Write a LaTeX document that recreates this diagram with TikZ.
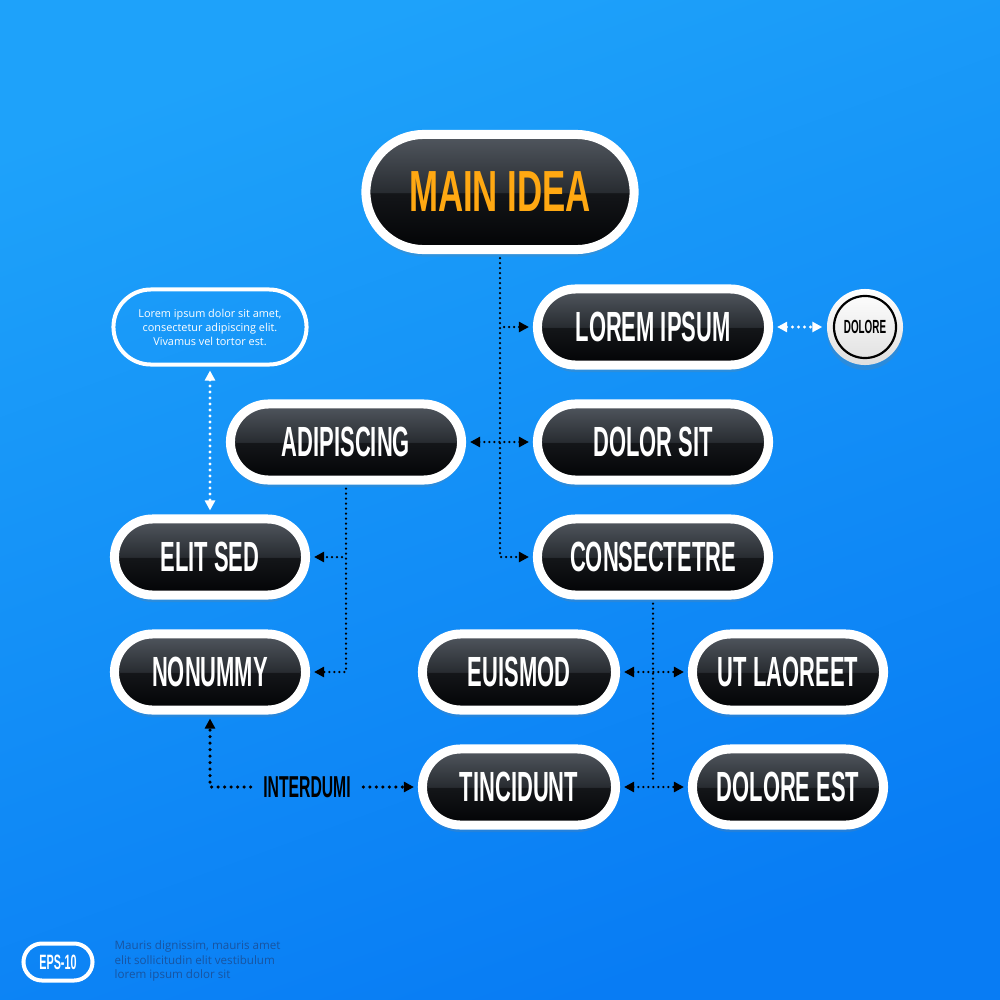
\documentclass[tikz,border=0pt]{standalone}
\usepackage{fontspec}
\setmainfont{Open Sans}
\newfontfamily\labelfont[FakeStretch=0.52,UprightFont=* Bold]{Liberation Sans}
\newfontfamily\ideafont[FakeStretch=0.6,UprightFont=* Bold]{Liberation Sans}
\usetikzlibrary{arrows.meta,shapes.misc,shadows}

\definecolor{bgtop}{RGB}{30,162,250}
\definecolor{bgbot}{RGB}{8,124,244}
\definecolor{pilltop}{RGB}{82,88,96}
\definecolor{pillmid}{RGB}{40,44,49}
\definecolor{pilldark}{RGB}{20,22,25}
\definecolor{pillbot}{RGB}{2,3,5}
\definecolor{mainorange}{RGB}{255,168,18}
\definecolor{notecol}{RGB}{24,84,160}

\pgfdeclareverticalshading{pillshade}{100bp}{color(0bp)=(pillbot); color(25bp)=(pillbot); color(49.5bp)=(pilldark); color(50bp)=(pillmid); color(75bp)=(pilltop); color(100bp)=(pilltop)}

\tikzset{
  pill/.style={rounded rectangle, shade, shading=pillshade, draw=white, line width=0.09cm,
    minimum width=2.31cm, minimum height=0.76cm, inner sep=0pt, text=white,
    font=\labelfont\fontsize{12}{12}\selectfont,
    drop shadow={opacity=0.22, shadow xshift=0cm, shadow yshift=-0.07cm}},
  outline/.style={rounded rectangle, draw=white, line width=0.04cm, inner sep=0pt, text=white},
  conn/.style={draw=black, line width=0.025cm, dash pattern=on 0pt off 0.05cm, line cap=round, shorten >=0.04cm, shorten <=0.04cm},
  connbold/.style={conn, line width=0.035cm, dash pattern=on 0pt off 0.065cm},
  wconn/.style={conn, draw=white, line width=0.032cm, dash pattern=on 0pt off 0.06cm}
}

\begin{document}
\begin{tikzpicture}[x=0.01cm,y=-0.01cm,>={Triangle[length=0.1cm,width=0.1cm]},line join=round]
\shade[top color=bgtop,bottom color=bgbot,shading angle=20] (0,0) rectangle (1000,1000);
\useasboundingbox (0,0) rectangle (1000,1000);

% main node and its children
\node[pill, minimum width=2.68cm, minimum height=1.15cm, text=mainorange, font=\ideafont\fontsize{16.5}{16.5}\selectfont] (main) at (500,192) {MAIN IDEA};
\node[pill] (lorem) at (653,327) {LOREM IPSUM};
\node[pill] (dolor) at (653,442) {DOLOR SIT};
\node[pill] (cons) at (653,557) {CONSECTETRE};
\node[pill] (adip) at (346,442) {ADIPISCING};
\node[pill, minimum width=1.91cm] (elit) at (210,557) {ELIT SED};
\node[pill, minimum width=1.91cm] (nonum) at (210,672) {NONUMMY};
\node[pill, minimum width=1.93cm] (euis) at (519,672) {EUISMOD};
\node[pill, minimum width=1.93cm] (tinc) at (519,787) {TINCIDUNT};
\node[pill, minimum width=1.91cm] (utl) at (788,672) {UT LAOREET};
\node[pill, minimum width=1.91cm] (dolest) at (788,787) {DOLORE EST};

\node[circle, minimum size=0.76cm, inner sep=0pt, top color=white, bottom color=gray!25,
  font=\labelfont\fontsize{5.4}{5.4}\selectfont,
  drop shadow={opacity=0.22, shadow xshift=0cm, shadow yshift=-0.05cm},
  path picture={\draw[line width=0.022cm] (path picture bounding box.center) circle (0.31cm);}] (dolore) at (865,327) {DOLORE};

\node[outline, minimum width=1.93cm, minimum height=0.75cm, align=center,
  font=\fontsize{3.1}{4}\selectfont] (note) at (210,327) {Lorem ipsum dolor sit amet,\\consectetur adipiscing elit.\\Vivamus vel tortor est.};

\node[inner sep=0.08cm, font=\labelfont\fontsize{8.6}{8.6}\selectfont] (interdumi) at (307,787) {INTERDUMI};

% connectors
\draw[conn,->] (main.south) |- (cons.west);
\draw[conn,->] (main.south |- lorem.west) -- (lorem.west);
\draw[conn,<->] (adip.east) -- (dolor.west);
\draw[conn,->] (adip.south) |- (nonum.east);
\draw[conn,->] (adip.south |- elit.east) -- (elit.east);
\draw[conn] (cons.south) -- (cons.south |- tinc.east);
\draw[conn,<->] (euis.east) -- (utl.west);
\draw[conn,<->] (tinc.east) -- (dolest.west);
\draw[connbold,->] (interdumi.west) -| (nonum.south);
\draw[connbold,->] (interdumi.east) -- (tinc.west);
\draw[wconn,<->] (note.south) -- (elit.north);
\draw[wconn,<->] (lorem.east) -- (dolore.west);

% footer
\node[outline, minimum width=0.69cm, minimum height=0.37cm, font=\labelfont\fontsize{5.9}{5.9}\selectfont] (eps) at (58,962) {EPS-10};
\node[anchor=west, align=left, inner sep=0pt, text=notecol, font=\fontsize{3.3}{4.1}\selectfont] (foot) at (114,961) {Mauris dignissim, mauris amet\\elit sollicitudin elit vestibulum\\lorem ipsum dolor sit};
\end{tikzpicture}
\end{document}
